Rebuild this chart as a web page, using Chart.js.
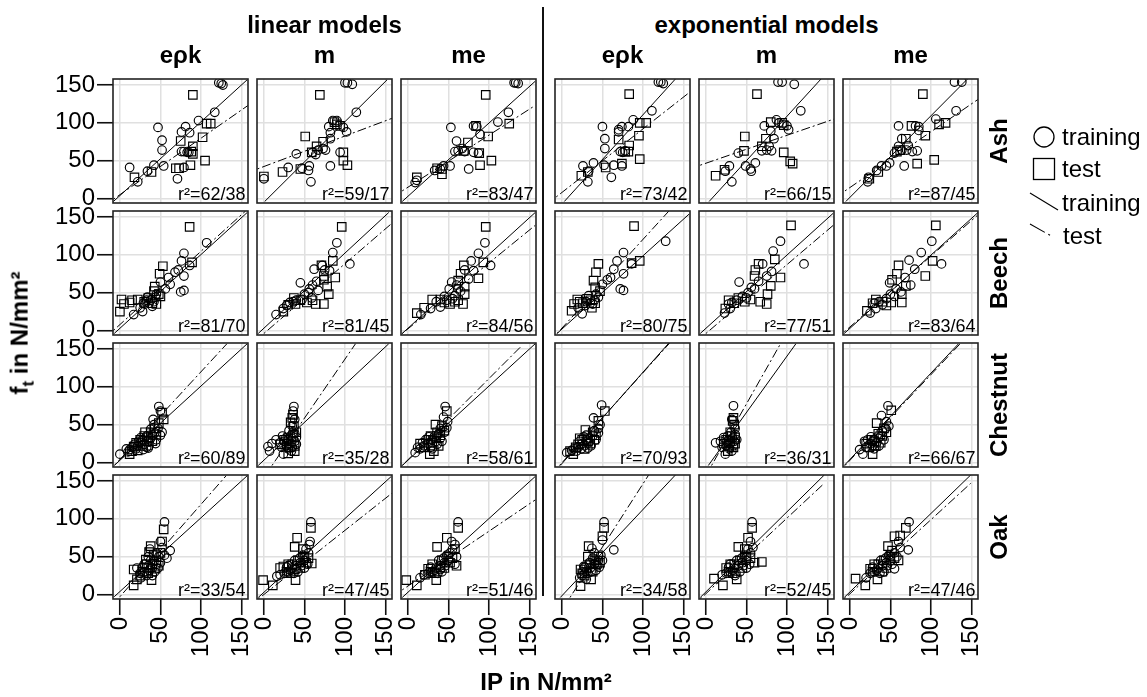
<!DOCTYPE html>
<html>
<head>
<meta charset="utf-8">
<title>f_t vs IP by species and model</title>
<script src="https://cdn.jsdelivr.net/npm/chart.js@4.4.1/dist/chart.umd.min.js"></script>
<style>
  html, body { margin: 0; padding: 0; background: #fff; }
  body { width: 1147px; height: 697px; position: relative; overflow: hidden;
         font-family: "Liberation Sans", Arial, sans-serif; color: #000; }
  canvas { position: absolute; }
  .lbl { position: absolute; white-space: nowrap; line-height: 1; }
  .bold { font-weight: bold; font-size: 24px; }
  .ctr { transform: translate(-50%, -50%); }
  .rot { transform: translate(-50%, -50%) rotate(-90deg); }
  .r2 { font-size: 18px; transform: translateX(-100%); }
  .leg { font-size: 24px; transform: translateY(-50%); }
</style>
</head>
<body>
<script>
// ---- categories / ticks ----
const species = ['Ash', 'Beech', 'Chestnut', 'Oak'];
const families = ['linear models', 'exponential models'];
const models = ['eρk', 'm', 'me'];
const tickValues = [0, 50, 100, 150];

// r² training/test, panels: lin eρk, lin m, lin me, exp eρk, exp m, exp me
const ashR2 = ['62/38', '59/17', '83/47', '73/42', '66/15', '87/45'];
const beechR2 = ['81/70', '81/45', '84/56', '80/75', '77/51', '83/64'];
const chestnutR2 = ['60/89', '35/28', '58/61', '70/93', '36/31', '66/67'];
const oakR2 = ['33/54', '47/45', '51/46', '34/58', '52/45', '47/46'];

// fitted lines [x1, y1, x2, y2], same panel order
const ashTrainFit = [[-8,-4,157,157], [1,-4,152,157], [-7,-4,157,155], [3,-4,140,158], [4,-4,142,158], [-5,-4,145,158]];
const ashTestFit = [[-8,-1,158,123], [-8,39,158,106], [-7,10,157,123], [-7,2,157,140], [-7,44,158,105], [-6,10,158,131]];
const beechTrainFit = [[-7,-4,157,156], [-7,-4,154,156], [-7,-4,157,156], [-6,-4,157,154], [-7,-4,157,155], [-7,-4,158,156]];
const beechTestFit = [[-8,0,155,158], [0,-4,156,140], [-7,-4,157,139], [-6,-4,132,158], [0,-4,157,139], [-7,-2,157,152]];
const chestnutTrainFit = [[-7,-4,157,157], [-7,-4,154,157], [-7,-4,157,157], [-2,-4,132,158], [3,-4,111,157], [-7,-4,134,157]];
const chestnutTestFit = [[-6,-3,132,157], [10,-4,113,157], [-7,-4,141,155], [-3,-4,133,158], [7,-4,92,157], [-6,-4,136,157]];
const oakTrainFit = [[-7,-3,157,157], [-7,-4,157,156], [-7,-4,157,156], [-2,-4,140,158], [-7,-4,146,158], [-7,-4,149,158]];
const oakTestFit = [[0,-3,131,157], [-7,-6,158,134], [-7,6,157,125], [10,-4,107,158], [-7,-6,146,147], [-7,-6,149,147]];

// points [IP, f_t]
const ashLinEpkTrain = [[122,153],[125,152],[127,150],[117,114],[97,103],[81,95],[76,88],[47,94],[52,77],[52,64],[76,62],[79,62],[85,61],[83,61],[12,41],[22,22],[34,36],[42,44],[54,43],[71,26],[79,41],[86,87]];
const ashLinEpkTest = [[90,137],[18,28],[39,35],[69,40],[87,44],[105,50],[102,81],[107,99],[112,99],[75,76],[90,69],[90,59],[88,62],[73,40]];
const ashLinMTrain = [[100,153],[103,153],[109,151],[114,114],[85,103],[90,103],[80,95],[98,94],[102,88],[82,87],[82,79],[76,64],[67,64],[60,61],[94,61],[40,59],[30,41],[47,40],[56,43],[55,37],[82,43],[58,22],[0,26],[73,66],[64,58]];
const ashLinMTest = [[69,137],[51,82],[73,75],[65,69],[59,61],[87,101],[94,96],[98,61],[98,50],[103,44],[23,35],[45,39],[0,29],[90,98]];
const ashLinMeTrain = [[131,153],[133,153],[136,152],[124,114],[111,101],[53,94],[81,96],[89,85],[60,76],[67,66],[62,63],[81,61],[87,60],[75,39],[52,43],[44,43],[40,39],[33,37],[11,24],[9,21],[70,62],[58,62],[85,95]];
const ashLinMeTest = [[96,137],[84,96],[99,82],[125,99],[74,74],[69,63],[88,60],[89,44],[103,50],[42,39],[42,32],[11,28],[36,40]];
const ashExpEpkTrain = [[119,154],[122,154],[125,152],[111,116],[88,104],[74,95],[82,95],[70,88],[50,95],[53,79],[53,66],[72,62],[75,61],[39,47],[26,43],[33,36],[52,44],[64,44],[74,43],[61,28],[32,22],[78,63],[70,91]];
const ashExpEpkTest = [[83,138],[96,100],[104,100],[95,83],[70,78],[83,70],[82,62],[74,46],[96,52],[54,41],[24,30],[32,35],[78,62]];
const ashExpMTrain = [[89,154],[94,154],[109,151],[117,116],[87,104],[72,96],[100,96],[102,91],[80,89],[84,79],[78,69],[69,63],[81,63],[40,60],[61,47],[49,43],[55,39],[56,36],[29,43],[32,22],[24,36],[90,100],[75,64]];
const ashExpMTest = [[63,138],[48,82],[74,79],[69,69],[47,63],[80,101],[94,100],[96,61],[104,49],[107,46],[12,30],[23,38],[96,97]];
const ashExpMeTrain = [[129,154],[138,154],[131,116],[106,105],[60,96],[81,96],[85,90],[64,79],[60,69],[64,64],[70,64],[77,62],[83,63],[49,47],[45,43],[39,43],[33,37],[23,28],[22,22],[67,43],[72,70],[55,60],[85,95]];
const ashExpMeTest = [[90,138],[76,96],[93,83],[118,100],[69,79],[62,64],[83,46],[104,51],[35,35],[24,26],[58,62],[110,98]];

const beechLinEpkTrain = [[107,116],[79,102],[76,92],[86,86],[72,80],[79,72],[62,61],[56,55],[75,51],[79,53],[29,36],[34,44],[40,32],[17,21],[28,25],[68,77],[50,64],[45,48],[38,40],[42,38],[36,36],[25,30],[33,40],[31,35],[44,44],[60,70]];
const beechLinEpkTest = [[86,137],[53,85],[49,75],[43,58],[48,48],[89,90],[2,41],[12,37],[22,41],[35,43],[0,25],[45,35],[5,35],[30,38],[40,36],[15,40],[42,52],[50,45]];
const beechLinMTrain = [[90,116],[85,103],[62,81],[81,79],[106,88],[45,63],[56,55],[67,53],[59,43],[47,41],[32,37],[15,21],[24,29],[50,48],[72,86],[75,80],[60,60],[40,40],[36,38],[28,33],[55,50],[65,65]];
const beechLinMTest = [[96,137],[85,92],[71,86],[88,70],[74,67],[78,58],[80,48],[74,35],[64,35],[53,37],[37,43],[39,35],[24,25],[74,72],[45,40],[30,34],[60,40]];
const beechLinMeTrain = [[95,116],[87,102],[78,92],[102,86],[81,79],[54,64],[62,55],[40,31],[28,29],[16,21],[51,55],[58,46],[65,52],[70,80],[45,45],[35,38],[48,40],[55,42],[60,60],[75,68]];
const beechLinMeTest = [[96,137],[69,86],[65,75],[62,66],[70,58],[70,48],[68,35],[87,69],[93,90],[52,35],[40,41],[30,41],[11,23],[58,38],[45,37],[20,30],[62,40]];
const beechExpEpkTrain = [[128,118],[76,103],[68,92],[64,81],[76,75],[56,67],[50,61],[72,55],[76,53],[33,46],[25,22],[29,33],[86,88],[40,40],[35,36],[30,38],[45,44],[20,30],[38,35],[42,48],[60,70]];
const beechExpEpkTest = [[89,138],[96,92],[45,88],[42,77],[39,66],[41,57],[19,41],[31,42],[41,36],[12,26],[86,89],[22,38],[26,36],[35,40],[15,35],[37,30],[47,52]];
const beechExpMTrain = [[92,118],[83,105],[70,88],[121,88],[81,78],[41,64],[56,57],[50,43],[32,37],[23,23],[30,29],[60,55],[45,45],[38,40],[65,65],[52,50],[75,72],[28,35]];
const beechExpMTest = [[105,139],[85,94],[65,88],[61,80],[92,70],[80,59],[76,48],[75,35],[67,38],[55,41],[40,43],[24,29],[60,72],[35,36],[48,38],[28,40]];
const beechExpMeTrain = [[101,118],[88,103],[73,93],[113,88],[80,81],[49,63],[57,55],[40,34],[25,23],[32,29],[63,51],[45,42],[55,45],[68,70],[36,38],[50,48],[75,60],[30,36]];
const beechExpMeTest = [[106,139],[102,92],[60,86],[58,75],[52,67],[69,59],[64,48],[64,37],[93,72],[51,37],[32,41],[21,26],[40,38],[45,33],[28,36]];

const chestnutLinEpkTrain = [[0,11],[48,74],[50,68],[41,57],[43,39],[33,35],[35,19],[25,26],[15,20],[20,18],[10,14],[28,30],[38,32],[45,30],[30,24],[22,22],[18,24],[36,27],[40,36],[33,20],[26,33],[12,17],[47,45],[52,40],[38,44],[44,25],[29,17],[8,18],[23,28],[36,22],[50,36],[42,50]];
const chestnutLinEpkTest = [[52,66],[54,57],[31,40],[12,11],[17,21],[25,30],[20,26],[35,33],[40,28],[28,22],[45,37],[48,52],[30,35],[15,15],[38,40],[22,16],[43,45],[33,28]];
const chestnutLinMTrain = [[37,74],[36,68],[38,57],[5,21],[7,15],[23,35],[24,11],[35,48],[30,30],[32,25],[28,22],[35,20],[38,28],[33,35],[25,28],[20,26],[30,18],[40,33],[36,40],[27,32],[15,30],[10,25],[34,15],[38,38],[22,20],[31,42],[40,24]];
const chestnutLinMTest = [[35,59],[37,48],[38,15],[33,53],[36,63],[30,33],[34,28],[28,25],[38,22],[25,30],[32,20],[36,35],[30,12],[40,40],[20,24]];
const chestnutLinMeTrain = [[46,74],[44,60],[49,54],[9,13],[30,30],[35,28],[25,25],[20,22],[40,32],[38,38],[28,20],[15,18],[33,35],[42,28],[22,30],[45,40],[36,24],[18,26],[30,18],[48,46],[26,34],[12,20],[40,45]];
const chestnutLinMeTest = [[34,50],[48,68],[27,11],[20,20],[30,26],[35,32],[40,36],[25,30],[38,22],[45,42],[28,35],[32,15],[42,48],[15,25],[36,40]];
const chestnutExpEpkTrain = [[49,76],[39,59],[45,39],[6,13],[32,19],[20,20],[25,25],[30,30],[35,32],[15,18],[28,22],[38,35],[42,30],[22,28],[18,15],[33,26],[45,45],[40,42],[12,16],[27,34],[36,22],[47,50],[24,18],[30,36]];
const chestnutExpEpkTest = [[53,68],[29,43],[14,11],[20,24],[25,30],[32,28],[38,40],[42,36],[17,20],[35,25],[28,18],[45,55],[22,32],[40,30],[10,15]];
const chestnutExpMTrain = [[34,75],[32,57],[36,37],[12,26],[24,11],[28,30],[30,25],[25,22],[33,32],[35,28],[20,20],[27,35],[31,40],[36,45],[18,28],[29,18],[34,22],[22,33],[38,30],[26,27],[32,15]];
const chestnutExpMTest = [[34,59],[35,50],[27,15],[33,55],[30,28],[28,22],[32,35],[36,33],[25,30],[34,20],[30,40],[22,25],[36,25]];
const chestnutExpMeTrain = [[47,75],[39,62],[45,54],[16,11],[25,25],[30,30],[35,32],[20,20],[28,22],[38,35],[42,30],[33,26],[18,28],[40,42],[22,30],[36,22],[44,45],[26,34],[12,17],[30,18],[48,48]];
const chestnutExpMeTest = [[51,69],[33,52],[28,11],[24,20],[30,28],[35,38],[40,35],[27,30],[38,26],[42,45],[20,25],[32,22],[45,40]];

const oakLinEpkTrain = [[55,96],[62,58],[50,70],[37,60],[21,35],[42,44],[35,38],[30,30],[40,35],[45,40],[48,50],[33,25],[25,28],[38,45],[50,42],[43,30],[28,36],[55,52],[47,35],[36,32],[52,62],[30,40],[40,25],[45,55],[58,48],[26,22],[35,50]];
const oakLinEpkTest = [[54,86],[52,70],[38,64],[32,46],[17,33],[17,12],[39,19],[21,20],[30,35],[40,40],[45,45],[35,28],[48,38],[25,25],[42,52],[33,40],[50,55],[28,30],[36,56],[44,34]];
const oakLinMTrain = [[58,96],[57,70],[56,66],[16,24],[40,38],[45,42],[50,45],[35,35],[30,30],[25,28],[42,30],[48,52],[52,60],[38,45],[55,55],[33,32],[46,38],[28,36],[20,26],[50,35],[44,48],[37,28],[54,40],[40,33],[30,38]];
const oakLinMTest = [[58,88],[41,75],[38,63],[24,37],[-1,19],[11,12],[39,19],[59,41],[30,40],[45,35],[35,40],[50,50],[42,45],[28,30],[55,48],[33,28],[48,60],[20,35],[38,33],[52,42]];
const oakLinMeTrain = [[62,96],[54,70],[58,66],[15,22],[40,38],[45,42],[50,45],[35,35],[30,30],[25,28],[42,30],[48,52],[55,60],[38,45],[52,55],[33,32],[46,38],[28,36],[20,26],[58,40],[44,48],[37,28],[60,50],[40,33]];
const oakLinMeTest = [[62,88],[48,75],[36,63],[60,38],[-2,19],[11,12],[35,19],[21,26],[30,40],[45,35],[50,50],[42,45],[28,30],[55,48],[33,28],[58,60],[40,36],[52,42],[25,34]];
const oakExpEpkTrain = [[52,96],[64,59],[50,72],[37,61],[27,37],[30,30],[35,35],[40,40],[45,45],[25,25],[32,28],[42,32],[38,48],[48,52],[22,22],[28,36],[44,38],[34,42],[30,20],[50,45],[36,30],[40,55],[26,30],[46,36]];
const oakExpEpkTest = [[52,88],[50,77],[33,64],[23,33],[23,11],[36,20],[28,25],[35,40],[40,45],[45,50],[30,35],[38,30],[25,28],[42,40],[32,50],[47,42]];
const oakExpMTrain = [[57,96],[55,70],[36,25],[40,38],[45,42],[50,45],[35,35],[30,30],[42,30],[48,52],[52,60],[38,45],[55,55],[33,32],[46,38],[28,36],[25,28],[50,35],[44,48],[37,28],[54,40],[58,62],[30,40],[20,26]];
const oakExpMTest = [[57,88],[40,63],[21,12],[10,21],[38,20],[69,43],[30,40],[45,35],[35,40],[50,50],[42,45],[28,30],[55,48],[33,28],[48,60],[25,35],[52,75],[60,42]];
const oakExpMeTrain = [[73,96],[72,59],[60,70],[40,38],[45,42],[50,45],[35,35],[30,30],[42,30],[48,52],[55,55],[38,45],[33,32],[46,38],[28,36],[25,28],[52,40],[44,48],[37,28],[58,50],[62,62],[20,22],[55,34]];
const oakExpMeTest = [[69,88],[55,77],[47,64],[7,21],[19,12],[34,20],[30,40],[45,35],[35,40],[50,50],[42,45],[28,30],[55,48],[62,78],[40,30],[60,45],[25,34],[52,58]];

// lookup tables built from the arrays above
const pointTable = {
  Ash: [[ashLinEpkTrain, ashLinEpkTest], [ashLinMTrain, ashLinMTest], [ashLinMeTrain, ashLinMeTest],
        [ashExpEpkTrain, ashExpEpkTest], [ashExpMTrain, ashExpMTest], [ashExpMeTrain, ashExpMeTest]],
  Beech: [[beechLinEpkTrain, beechLinEpkTest], [beechLinMTrain, beechLinMTest], [beechLinMeTrain, beechLinMeTest],
          [beechExpEpkTrain, beechExpEpkTest], [beechExpMTrain, beechExpMTest], [beechExpMeTrain, beechExpMeTest]],
  Chestnut: [[chestnutLinEpkTrain, chestnutLinEpkTest], [chestnutLinMTrain, chestnutLinMTest], [chestnutLinMeTrain, chestnutLinMeTest],
             [chestnutExpEpkTrain, chestnutExpEpkTest], [chestnutExpMTrain, chestnutExpMTest], [chestnutExpMeTrain, chestnutExpMeTest]],
  Oak: [[oakLinEpkTrain, oakLinEpkTest], [oakLinMTrain, oakLinMTest], [oakLinMeTrain, oakLinMeTest],
        [oakExpEpkTrain, oakExpEpkTest], [oakExpMTrain, oakExpMTest], [oakExpMeTrain, oakExpMeTest]]
};
const fitTable = {
  Ash: [ashTrainFit, ashTestFit], Beech: [beechTrainFit, beechTestFit],
  Chestnut: [chestnutTrainFit, chestnutTestFit], Oak: [oakTrainFit, oakTestFit]
};
const r2Table = { Ash: ashR2, Beech: beechR2, Chestnut: chestnutR2, Oak: oakR2 };

// ---- layout ----
const colLeft = [113, 257, 401, 555, 699, 843];
const rowTop = [79, 211, 343, 475];
const PW = 135, PH = 124;
const X_MIN = -8.5, X_MAX = 158, Y_MIN = -6, Y_MAX = 158;
const TEST_DASH = [2, 3, 9, 3];
const TICK_FONT = { family: "'Liberation Sans', Arial, sans-serif", size: 24 };

Chart.defaults.font.family = "'Liberation Sans', Arial, sans-serif";
Chart.defaults.color = '#000';

// black box around each panel
const panelFrame = {
  id: 'panelFrame',
  afterDraw(chart) {
    const { ctx, chartArea: a } = chart;
    ctx.save();
    ctx.strokeStyle = '#222';
    ctx.lineWidth = 1.6;
    ctx.strokeRect(a.left, a.top, a.right - a.left, a.bottom - a.top);
    ctx.restore();
  }
};

function addLabel(text, x, y, cls, html) {
  const d = document.createElement('div');
  d.className = 'lbl ' + cls;
  if (html) d.innerHTML = text; else d.textContent = text;
  d.style.left = x + 'px';
  d.style.top = y + 'px';
  document.body.appendChild(d);
  return d;
}

const toXY = arr => arr.map(p => ({ x: p[0], y: p[1] }));

function buildPanel(r, c) {
  const sp = species[r];
  const isLeft = c === 0, isBottom = r === species.length - 1;
  const axisW = isLeft ? 72 : 0, axisH = isBottom ? 62 : 0, pad = 14;
  const w = PW + axisW + 2 * pad, h = PH + axisH + 2 * pad;

  const canvas = document.createElement('canvas');
  canvas.width = w; canvas.height = h;
  canvas.style.left = (colLeft[c] - axisW - pad) + 'px';
  canvas.style.top = (rowTop[r] - pad) + 'px';
  canvas.style.width = w + 'px';
  canvas.style.height = h + 'px';
  document.body.appendChild(canvas);

  const [train, test] = pointTable[sp][c];
  const tf = fitTable[sp][0][c], sf = fitTable[sp][1][c];

  const grid = ticksOn => ({
    color: '#e0e0e0', lineWidth: 1.5, drawTicks: ticksOn,
    tickLength: 16, tickColor: '#111', tickWidth: 1.6
  });
  // keep the plot box exactly where it belongs
  const noPad = s => { s.paddingLeft = 0; s.paddingRight = 0; s.paddingTop = 0; s.paddingBottom = 0; };

  new Chart(canvas, {
    type: 'scatter',
    data: {
      datasets: [
        { label: 'training', data: toXY(train), pointStyle: 'circle', pointRadius: 4.3,
          borderColor: '#000', backgroundColor: 'rgba(0,0,0,0)', borderWidth: 1.15, clip: 0 },
        { label: 'test', data: toXY(test), pointStyle: 'rect', pointRadius: 6,
          borderColor: '#000', backgroundColor: 'rgba(0,0,0,0)', borderWidth: 1.15, clip: 0 },
        { label: 'training fit', data: [{ x: tf[0], y: tf[1] }, { x: tf[2], y: tf[3] }],
          showLine: true, pointRadius: 0, borderColor: '#000', borderWidth: 1, clip: 0 },
        { label: 'test fit', data: [{ x: sf[0], y: sf[1] }, { x: sf[2], y: sf[3] }],
          showLine: true, pointRadius: 0, borderColor: '#000', borderWidth: 1, borderDash: TEST_DASH, clip: 0 }
      ]
    },
    options: {
      responsive: false,
      animation: false,
      devicePixelRatio: 1,
      events: [],
      layout: { autoPadding: false, padding: { left: pad, right: pad, top: pad, bottom: pad } },
      plugins: { legend: { display: false }, tooltip: { enabled: false } },
      scales: {
        x: {
          type: 'linear', min: X_MIN, max: X_MAX,
          afterBuildTicks: s => { s.ticks = tickValues.map(v => ({ value: v })); },
          afterFit: s => { s.height = axisH; noPad(s); },
          grid: grid(isBottom),
          border: { display: false },
          ticks: { display: isBottom, autoSkip: false, minRotation: 90, maxRotation: 90,
                   padding: 2, color: '#000', font: TICK_FONT }
        },
        y: {
          type: 'linear', min: Y_MIN, max: Y_MAX,
          afterBuildTicks: s => { s.ticks = tickValues.map(v => ({ value: v })); },
          afterFit: s => { s.width = axisW; noPad(s); },
          grid: grid(isLeft),
          border: { display: false },
          ticks: { display: isLeft, autoSkip: false, padding: 2, color: '#000', font: TICK_FONT }
        }
      }
    },
    plugins: [panelFrame]
  });

  // r² label
  addLabel('r²=' + r2Table[sp][c], colLeft[c] + PW - 2.5, rowTop[r] + PH - 18.5, 'r2');
}

species.forEach((sp, r) => {
  colLeft.forEach((_, c) => buildPanel(r, c));
  addLabel(sp, 999, rowTop[r] + PH / 2, 'bold rot');
});

// headers
families.forEach((f, i) => {
  const cx = (colLeft[i * 3] + colLeft[i * 3 + 2] + PW) / 2;
  addLabel(f, cx, 25, 'bold ctr');
  models.forEach((m, j) => addLabel(m, colLeft[i * 3 + j] + PW / 2, 55, 'bold ctr'));
});

// axis titles
addLabel('f<sub style="font-size:17px">t</sub> in N/mm²', 22, 333, 'bold rot', true);
addLabel('IP in N/mm²', 546, 682, 'bold ctr');

// separator between model families
const sep = document.createElement('div');
sep.style.cssText = 'position:absolute;left:542px;top:7px;width:2px;height:589px;background:#111;';
document.body.appendChild(sep);

// legend
const legendSvg = `
<svg width="40" height="130" style="position:absolute;left:1022px;top:122px" xmlns="http://www.w3.org/2000/svg">
  <circle cx="22" cy="15" r="10" fill="none" stroke="#000" stroke-width="1.3"/>
  <rect x="11.5" y="36.5" width="21" height="21" fill="none" stroke="#000" stroke-width="1.3"/>
  <line x1="8" y1="71" x2="36" y2="88" stroke="#000" stroke-width="1.1"/>
  <line x1="8" y1="102" x2="31" y2="115" stroke="#000" stroke-width="1.1" stroke-dasharray="17 4 2 4"/>
</svg>`;
document.body.insertAdjacentHTML('beforeend', legendSvg);
addLabel('training', 1062, 137, 'leg');
addLabel('test', 1062, 169, 'leg');
addLabel('training', 1062, 203, 'leg');
addLabel('test', 1063, 236, 'leg');
</script>
</body>
</html>
